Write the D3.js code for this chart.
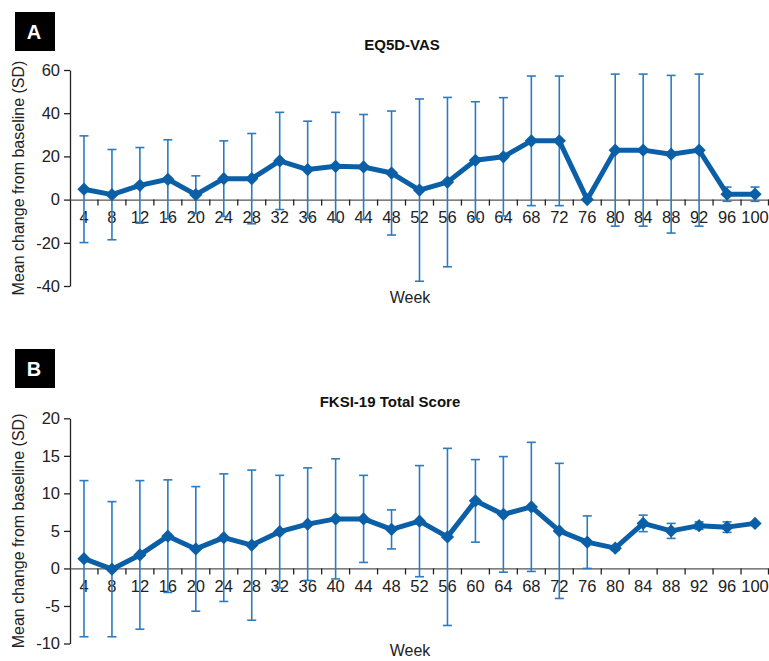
<!DOCTYPE html>
<html>
<head>
<meta charset="utf-8">
<script src="https://cdn.jsdelivr.net/npm/d3@7"></script>
<style>
  body { margin: 0; background: #fff; }
  svg { display: block; font-family: "Liberation Sans", Arial, sans-serif; }
</style>
</head>
<body>
<svg id="chart" width="769" height="661"></svg>
<script>
// week labels shared by both panels
const weeks = [4, 8, 12, 16, 20, 24, 28, 32, 36, 40, 44, 48, 52, 56, 60, 64, 68, 72, 76, 80, 84, 88, 92, 96, 100];

// panel A: EQ5D-VAS, mean change and SD
const vasMean = [4.8, 2.3, 6.6, 9.4, 2.3, 9.7, 9.7, 17.9, 13.9, 15.4, 15.1, 12.3, 4.4, 8.1, 18.2, 19.8, 27.2, 27.2, 0, 22.9, 22.9, 21.0, 22.9, 2.5, 2.5];
const vasSD = [24.7, 20.9, 17.5, 18.3, 8.7, 17.5, 20.9, 22.5, 22.4, 25.0, 24.3, 28.7, 42.2, 39.2, 27.1, 27.4, 30.0, 30.0, 0, 35.2, 35.2, 36.5, 35.2, 3.3, 3.3];
const vasTicks = [-40, -20, 0, 20, 40, 60];

// panel B: FKSI-19 Total Score, mean change and SD
const fksiMean = [1.3, -0.1, 1.8, 4.3, 2.6, 4.1, 3.1, 4.9, 5.9, 6.6, 6.6, 5.2, 6.3, 4.2, 9.0, 7.2, 8.2, 5.0, 3.5, 2.7, 6.0, 5.0, 5.7, 5.5, 6.0];
const fksiSD = [10.4, 9.0, 9.9, 7.5, 8.3, 8.5, 10.0, 7.5, 7.5, 8.0, 5.8, 2.6, 7.4, 11.8, 5.5, 7.7, 8.6, 9.0, 3.5, 0.3, 1.1, 1.0, 0.5, 0.7, 0];
const fksiTicks = [-10, -5, 0, 5, 10, 15, 20];

const lineColor = "#0b5fa6";
const barColor = "#2b7bbf";
const svg = d3.select("#chart");

function drawPanel(opt) {
  const x = d3.scaleBand().domain(weeks).range([70, 769]).padding(0);
  const y = d3.scaleLinear().domain(opt.domain).range([opt.bottom, opt.top]);
  const g = svg.append("g");

  // panel letter box
  g.append("rect").attr("x", 15).attr("y", opt.boxY).attr("width", 40).attr("height", 39).attr("fill", "#000");
  g.append("text").attr("x", 34).attr("y", opt.boxY + 27)
    .attr("text-anchor", "middle").attr("fill", "#fff")
    .attr("font-size", 20).attr("font-weight", "bold").text(opt.letter);

  // title
  g.append("text").attr("x", opt.titleX).attr("y", opt.titleY)
    .attr("text-anchor", "middle").attr("font-size", 15).attr("font-weight", "bold")
    .attr("fill", "#111").text(opt.title);

  // y axis (plain hyphen for negatives, like the original)
  const yAxis = g.append("g").attr("transform", "translate(70,0)")
    .call(d3.axisLeft(y).tickValues(opt.ticks).tickFormat(d => String(d))
      .tickSize(6).tickSizeOuter(0).tickPadding(4));
  yAxis.select(".domain").attr("stroke", "#222").attr("stroke-width", 1.3);
  yAxis.selectAll(".tick line").attr("stroke", "#222").attr("stroke-width", 1.3);
  yAxis.selectAll(".tick text").attr("font-size", 16.5).attr("fill", "#222")
    .attr("font-family", "Liberation Sans, Arial, sans-serif");

  // x axis at zero
  const y0 = y(0);
  const xAxis = g.append("g").attr("transform", `translate(0,${y0})`)
    .call(d3.axisBottom(x).tickSize(0).tickSizeOuter(0).tickPadding(12));
  xAxis.select(".domain").attr("stroke", "#555").attr("stroke-width", 1.3);
  xAxis.selectAll(".tick text").attr("font-size", 16.5).attr("fill", "#222")
    .attr("font-family", "Liberation Sans, Arial, sans-serif");
  // tick marks between categories
  g.append("g").selectAll("line")
    .data(weeks.slice(1).concat(["end"]))
    .join("line")
    .attr("x1", d => d === "end" ? x.range()[1] - 0.5 : x(d))
    .attr("x2", d => d === "end" ? x.range()[1] - 0.5 : x(d))
    .attr("y1", y0).attr("y2", y0 + 6)
    .attr("stroke", "#222").attr("stroke-width", 1.3);

  // axis titles
  g.append("text")
    .attr("transform", `translate(24,${(opt.top + opt.bottom) / 2}) rotate(-90)`)
    .attr("text-anchor", "middle").attr("font-size", 16).attr("fill", "#222")
    .text("Mean change from baseline (SD)");
  g.append("text").attr("x", 410).attr("y", opt.weekY)
    .attr("text-anchor", "middle").attr("font-size", 16).attr("fill", "#222").text("Week");

  const pts = weeks.map((w, i) => ({ w: w, m: opt.mean[i], sd: opt.sd[i] }));
  const cx = d => x(d.w) + x.bandwidth() / 2;

  // error bars
  const eb = g.append("g").attr("stroke", barColor).attr("stroke-width", 1.6).attr("fill", "none");
  const withBars = pts.filter(d => d.sd > 0);
  eb.selectAll(".v").data(withBars).join("line")
    .attr("x1", cx).attr("x2", cx)
    .attr("y1", d => y(d.m + d.sd)).attr("y2", d => y(d.m - d.sd));
  eb.selectAll(".t").data(withBars).join("line")
    .attr("x1", d => cx(d) - 4.5).attr("x2", d => cx(d) + 4.5)
    .attr("y1", d => y(d.m + d.sd)).attr("y2", d => y(d.m + d.sd));
  eb.selectAll(".b").data(withBars).join("line")
    .attr("x1", d => cx(d) - 4.5).attr("x2", d => cx(d) + 4.5)
    .attr("y1", d => y(d.m - d.sd)).attr("y2", d => y(d.m - d.sd));

  // mean line
  const line = d3.line().x(cx).y(d => y(d.m));
  g.append("path").datum(pts).attr("d", line)
    .attr("fill", "none").attr("stroke", lineColor).attr("stroke-width", 5)
    .attr("stroke-linejoin", "round");

  // diamond markers
  g.append("g").selectAll("path").data(pts).join("path")
    .attr("d", d3.symbol().type(d3.symbolSquare).size(88))
    .attr("transform", d => `translate(${cx(d)},${y(d.m)}) rotate(45)`)
    .attr("fill", lineColor);
}

drawPanel({
  letter: "A", boxY: 12, title: "EQ5D-VAS", titleX: 402, titleY: 50,
  domain: [-40, 60], top: 70, bottom: 286, ticks: vasTicks,
  mean: vasMean, sd: vasSD, weekY: 303
});

drawPanel({
  letter: "B", boxY: 349, title: "FKSI-19 Total Score", titleX: 390, titleY: 407,
  domain: [-10, 20], top: 418.3, bottom: 643.5, ticks: fksiTicks,
  mean: fksiMean, sd: fksiSD, weekY: 656
});
</script>
</body>
</html>
